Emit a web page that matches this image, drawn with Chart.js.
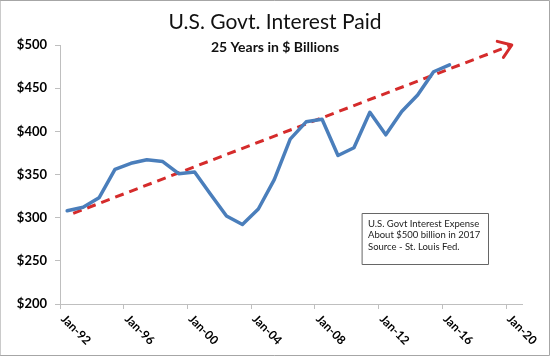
<!DOCTYPE html>
<html>
<head>
<meta charset="utf-8">
<script src="https://cdn.jsdelivr.net/npm/chart.js@4/dist/chart.umd.min.js"></script>
<style>
  html, body { margin: 0; padding: 0; background: #ffffff; }
  #wrap { width: 550px; height: 356px; position: relative; }
</style>
</head>
<body>
<div id="wrap"><canvas id="c" width="550" height="356"></canvas></div>
<script>
// ---- Data ----
const titleText = "U.S. Govt. Interest Paid";
const subtitleText = "25 Years in $ Billions";
const noteLines = ["U.S. Govt Interest Expense", "About $500 billion in 2017", "Source - St. Louis Fed."];

// annual observations (decimal year positions, as plotted on the date axis)
const years = [1992.45, 1993.45, 1994.45, 1995.45, 1996.45, 1997.45, 1998.45, 1999.45, 2000.45,
               2001.45, 2002.45, 2003.45, 2004.45, 2005.45, 2006.45, 2007.45, 2008.45, 2009.45,
               2010.45, 2011.45, 2012.45, 2013.45, 2014.45, 2015.45, 2016.45];
const interestPaid = [308, 312, 323, 356, 363, 367, 365, 351, 353,
                      327, 302, 292, 310, 344, 391, 411, 414, 372,
                      381, 422, 396, 423, 442, 469, 477];

// hand-drawn trend arrow (start and end)
const trendYears = [1992.83, 2020.36];
const trendValues = [305, 500];

// axis ticks
const xTickYears = [1992, 1996, 2000, 2004, 2008, 2012, 2016, 2020];
const xTickLabels = ["Jan-92", "Jan-96", "Jan-00", "Jan-04", "Jan-08", "Jan-12", "Jan-16", "Jan-20"];
const yTickValues = [200, 250, 300, 350, 400, 450, 500];

const FONT = "Lato, 'Open Sans', 'DejaVu Sans', sans-serif";

// ---- Plugins ----
const decorPlugin = {
  id: 'decor',
  afterDraw(chart) {
    const ctx = chart.ctx;
    ctx.save();
    // titles
    ctx.fillStyle = '#111';
    ctx.textAlign = 'center';
    ctx.textBaseline = 'middle';
    ctx.font = "21px " + FONT;
    ctx.fillText(titleText, 275, 22);
    ctx.font = "bold 14px " + FONT;
    ctx.fillText(subtitleText, 275, 47);

    // rotated x labels (clockwise, starting at tick)
    const xs = chart.scales.x;
    const yBase = chart.chartArea.bottom;
    ctx.font = "bold 12px " + FONT;
    ctx.fillStyle = '#000';
    ctx.textAlign = 'left';
    ctx.textBaseline = 'middle';
    xTickYears.forEach((yr, i) => {
      const px = xs.getPixelForValue(yr);
      ctx.save();
      ctx.translate(px + 3, yBase + 13);
      ctx.rotate(Math.PI / 4);
      ctx.fillText(xTickLabels[i], 0, 0);
      ctx.restore();
    });

    // arrowhead on trend line
    const meta = chart.getDatasetMeta(1);
    const pts = meta.data;
    if (pts.length >= 2) {
      const a = pts[pts.length - 2], b = pts[pts.length - 1];
      const ang = Math.atan2(a.y - b.y, a.x - b.x);
      const len = 15, spread = 35 * Math.PI / 180;
      ctx.strokeStyle = '#D52B2B';
      ctx.lineWidth = 3;
      ctx.lineCap = 'round';
      ctx.lineJoin = 'round';
      ctx.setLineDash([]);
      ctx.beginPath();
      ctx.moveTo(b.x + len * Math.cos(ang + spread), b.y + len * Math.sin(ang + spread));
      ctx.lineTo(b.x, b.y);
      ctx.lineTo(b.x + len * Math.cos(ang - spread), b.y + len * Math.sin(ang - spread));
      ctx.stroke();
    }

    // note box
    ctx.fillStyle = '#fff';
    ctx.fillRect(362, 213, 127, 52);
    ctx.strokeStyle = '#666';
    ctx.lineWidth = 1;
    ctx.strokeRect(362.5, 213.5, 126, 51);
    ctx.fillStyle = '#222';
    ctx.font = "9.5px " + FONT;
    ctx.textAlign = 'left';
    ctx.textBaseline = 'middle';
    noteLines.forEach((t, i) => ctx.fillText(t, 368, 223.5 + i * 11.7));

    // outer frame
    ctx.strokeStyle = '#a6a6a6';
    ctx.lineWidth = 1;
    ctx.strokeRect(0.5, 0.5, 549, 355);
    ctx.restore();
  }
};

// ---- Chart ----
new Chart(document.getElementById('c'), {
  type: 'line',
  data: {
    datasets: [
      {
        label: 'Interest Paid',
        data: years.map((x, i) => ({ x: x, y: interestPaid[i] })),
        borderColor: '#4A7EBB',
        borderWidth: 3.5,
        pointRadius: 0,
        tension: 0,
        fill: false,
        borderJoinStyle: 'round',
        borderCapStyle: 'round'
      },
      {
        label: 'Trend',
        data: trendYears.map((x, i) => ({ x: x, y: trendValues[i] })),
        borderColor: '#D52B2B',
        borderWidth: 3,
        borderDash: [9, 6],
        pointRadius: 0,
        fill: false
      }
    ]
  },
  options: {
    responsive: false,
    animation: false,
    layout: { padding: { top: 45, right: 28, left: 0, bottom: 0 } },
    plugins: {
      legend: { display: false },
      title: { display: false },
      tooltip: { enabled: false }
    },
    scales: {
      x: {
        type: 'linear',
        min: 1992,
        max: 2021,
        afterFit(scale) { scale.height = 52; },
        afterBuildTicks(scale) { scale.ticks = xTickYears.map(v => ({ value: v })); },
        ticks: { display: false },
        grid: { drawOnChartArea: false, drawTicks: true, tickLength: 5, color: '#bfbfbf' },
        border: { color: '#bfbfbf', width: 1 }
      },
      y: {
        min: 200,
        max: 500,
        afterFit(scale) { scale.width = 60; },
        afterBuildTicks(scale) { scale.ticks = yTickValues.map(v => ({ value: v })); },
        ticks: {
          padding: 8,
          color: '#000',
          font: { family: FONT, size: 13, weight: 'bold' },
          callback: v => '$' + v
        },
        grid: { drawOnChartArea: false, drawTicks: true, tickLength: 5, color: '#bfbfbf' },
        border: { color: '#bfbfbf', width: 1 }
      }
    }
  },
  plugins: [decorPlugin]
});
</script>
</body>
</html>
